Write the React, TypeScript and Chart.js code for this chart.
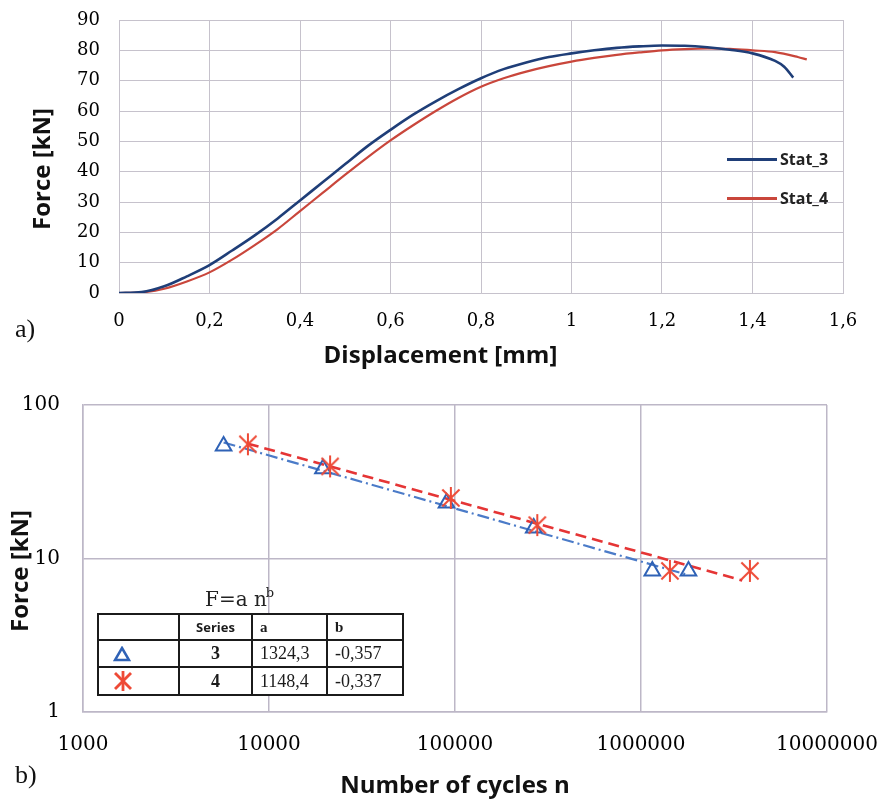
import React, { useEffect, useRef } from 'react';
import { Chart, registerables } from 'chart.js';

Chart.register(...registerables);

// ---------- a) Force vs displacement ----------
const stat3Displacement = [0, 0.05, 0.1, 0.15, 0.2, 0.25, 0.3, 0.35, 0.4, 0.45, 0.5, 0.55, 0.6, 0.65, 0.7, 0.75, 0.8, 0.85, 0.9, 0.95, 1.0, 1.05, 1.1, 1.15, 1.2, 1.25, 1.3, 1.35, 1.4, 1.45, 1.47, 1.49];
const stat3Force = [0, 0.3, 2.2, 5.5, 9.2, 14, 19, 24.5, 30.5, 36.5, 42.5, 48.5, 53.8, 58.8, 63.2, 67.2, 70.8, 73.8, 76, 77.8, 79, 80, 80.8, 81.3, 81.6, 81.5, 81, 80.2, 79, 76.5, 74.6, 71];
const stat4Displacement = [0, 0.05, 0.1, 0.15, 0.2, 0.25, 0.3, 0.35, 0.4, 0.45, 0.5, 0.55, 0.6, 0.65, 0.7, 0.75, 0.8, 0.85, 0.9, 0.95, 1.0, 1.05, 1.1, 1.15, 1.2, 1.25, 1.3, 1.35, 1.4, 1.45, 1.5, 1.52];
const stat4Force = [0, 0.2, 1.4, 3.8, 6.8, 11, 15.8, 21, 27, 33, 39, 44.8, 50.3, 55.3, 60, 64.3, 68, 70.8, 73, 74.8, 76.3, 77.5, 78.5, 79.3, 80, 80.4, 80.6, 80.5, 80, 79.4, 77.8, 77];
const topSeriesLabels = ['Stat_3', 'Stat_4'];
const topXTicks = [0, 0.2, 0.4, 0.6, 0.8, 1, 1.2, 1.4, 1.6];
const topXTickLabels = ['0', '0,2', '0,4', '0,6', '0,8', '1', '1,2', '1,4', '1,6'];
const topYTicks = [0, 10, 20, 30, 40, 50, 60, 70, 80, 90];
const topYTickLabels = ['0', '10', '20', '30', '40', '50', '60', '70', '80', '90'];

// ---------- b) Force vs number of cycles (log-log) ----------
const series3Cycles = [5700, 19500, 90000, 265000, 1150000, 1800000];
const series3Force = [54, 38.5, 23, 15.8, 8.3, 8.3];
const series4Cycles = [7700, 21300, 95000, 277000, 1430000, 3850000];
const series4Force = [55.5, 39.8, 24.8, 16.5, 8.3, 8.3];
const fit3Cycles = [5700, 1800000];
const fit3Force = [57, 7.8];
const fit4Cycles = [7700, 3500000];
const fit4Force = [56, 7.2];
const botXTicks = [1000, 10000, 100000, 1000000, 10000000];
const botXTickLabels = ['1000', '10000', '100000', '1000000', '10000000'];
const botYTicks = [1, 10, 100];
const botYTickLabels = ['1', '10', '100'];
const tableSeries = ['3', '4'];
const tableA = ['1324,3', '1148,4'];
const tableB = ['-0,357', '-0,337'];

const pts = (xs: number[], ys: number[]) => xs.map((x, i) => ({ x, y: ys[i] }));

const STAT3 = '#1f3e78';
const STAT4 = '#c9463b';
const TRI = '#2f62b6';
const FIT3 = '#4b7bc8';
const AST = '#ee4a36';
const FIT4 = '#e53535';
const GRID = '#c6c2cc';
const GRID_B = '#bdb7c7';
const TICK = '#000';
const TITLE_FONT = { family: '"Open Sans", sans-serif', weight: 'bold' as const, size: 24 };

const zeroPad = (s: any) => {
  s.paddingTop = 0;
  s.paddingBottom = 0;
  s.paddingLeft = 0;
  s.paddingRight = 0;
};

function makeAsterisk(color: string, size: number) {
  const c = document.createElement('canvas');
  c.width = size;
  c.height = size;
  const ctx = c.getContext('2d')!;
  ctx.strokeStyle = color;
  ctx.lineWidth = 2;
  const m = size / 2;
  const r = size / 2 - 1;
  const d = r * 0.78;
  ctx.beginPath();
  ctx.moveTo(m, m - r);
  ctx.lineTo(m, m + r);
  ctx.moveTo(m - d, m - d);
  ctx.lineTo(m + d, m + d);
  ctx.moveTo(m + d, m - d);
  ctx.lineTo(m - d, m + d);
  ctx.stroke();
  return c;
}

function TriangleIcon() {
  return (
    <svg width="18" height="16" viewBox="0 0 18 16">
      <polygon points="9,2 16,14 2,14" fill="none" stroke={TRI} strokeWidth="2.5" />
    </svg>
  );
}

function AsteriskIcon() {
  return (
    <svg width="20" height="22" viewBox="0 0 20 22">
      <g stroke={AST} strokeWidth="2.8">
        <line x1="10" y1="1" x2="10" y2="21" />
        <line x1="2" y1="3" x2="18" y2="19" />
        <line x1="18" y1="3" x2="2" y2="19" />
      </g>
    </svg>
  );
}

export default function App() {
  const topRef = useRef<HTMLCanvasElement>(null);
  const botRef = useRef<HTMLCanvasElement>(null);

  useEffect(() => {
    const charts: Chart[] = [];
    if (topRef.current) {
      charts.push(
        new Chart(topRef.current, {
          type: 'line',
          data: {
            datasets: [
              {
                label: topSeriesLabels[0],
                data: pts(stat3Displacement, stat3Force),
                borderColor: STAT3,
                borderWidth: 2.6,
                pointRadius: 0,
                cubicInterpolationMode: 'monotone',
                fill: false,
              },
              {
                label: topSeriesLabels[1],
                data: pts(stat4Displacement, stat4Force),
                borderColor: STAT4,
                borderWidth: 2.2,
                pointRadius: 0,
                cubicInterpolationMode: 'monotone',
                fill: false,
              },
            ],
          },
          options: {
            animation: false,
            responsive: false,
            layout: { padding: { top: 20, right: 42, left: 0, bottom: 0 } },
            plugins: { legend: { display: false }, tooltip: { enabled: false } },
            scales: {
              x: {
                type: 'linear',
                min: 0,
                max: 1.6,
                afterBuildTicks: (s: any) => {
                  s.ticks = topXTicks.map((v) => ({ value: v }));
                },
                afterFit: (s: any) => {
                  s.height = 82;
                  zeroPad(s);
                },
                ticks: {
                  callback: (_v: any, i: number) => topXTickLabels[i],
                  font: { family: '"DejaVu Serif", serif', size: 18 },
                  color: TICK,
                  padding: 18,
                  maxRotation: 0,
                  autoSkip: false,
                },
                grid: { color: GRID, lineWidth: 1, drawTicks: false },
                border: { color: GRID, width: 1 },
                title: {
                  display: true,
                  text: 'Displacement [mm]' + '             ',
                  font: TITLE_FONT,
                  color: '#111',
                  padding: { top: 0, bottom: 4 },
                },
              },
              y: {
                type: 'linear',
                min: 0,
                max: 90,
                afterBuildTicks: (s: any) => {
                  s.ticks = topYTicks.map((v) => ({ value: v }));
                },
                afterFit: (s: any) => {
                  s.width = 119;
                  zeroPad(s);
                },
                ticks: {
                  callback: (_v: any, i: number) => topYTickLabels[i],
                  font: { family: '"DejaVu Serif", serif', size: 18 },
                  color: TICK,
                  padding: 19,
                  autoSkip: false,
                },
                grid: { color: GRID, lineWidth: 1, drawTicks: false },
                border: { color: GRID, width: 1 },
                title: {
                  display: true,
                  text: 'Force [kN]' + '    ',
                  font: TITLE_FONT,
                  color: '#111',
                  padding: { top: 29, bottom: 0 },
                },
              },
            },
          },
        } as any)
      );
    }

    if (botRef.current) {
      const asterisk = makeAsterisk(AST, 24);
      charts.push(
        new Chart(botRef.current, {
          type: 'scatter',
          data: {
            datasets: [
              {
                label: 'Series 4',
                data: pts(series4Cycles, series4Force),
                pointStyle: asterisk,
                pointRadius: 12,
                borderColor: AST,
                backgroundColor: AST,
                showLine: false,
              },
              {
                label: 'Series 3',
                data: pts(series3Cycles, series3Force),
                pointStyle: 'triangle',
                pointRadius: 9,
                borderWidth: 2,
                borderColor: TRI,
                backgroundColor: 'rgba(255,255,255,0)',
                showLine: false,
              },
              {
                label: 'Fit 4',
                data: pts(fit4Cycles, fit4Force),
                showLine: true,
                borderColor: FIT4,
                borderWidth: 2.6,
                borderDash: [11, 6],
                pointRadius: 0,
              },
              {
                label: 'Fit 3',
                data: pts(fit3Cycles, fit3Force),
                showLine: true,
                borderColor: FIT3,
                borderWidth: 2.2,
                borderDash: [12, 4, 2, 4],
                pointRadius: 0,
              },
            ],
          },
          options: {
            animation: false,
            responsive: false,
            layout: { padding: { top: 30, right: 58, left: 0, bottom: 0 } },
            plugins: { legend: { display: false }, tooltip: { enabled: false } },
            scales: {
              x: {
                type: 'logarithmic',
                min: 1000,
                max: 10000000,
                afterBuildTicks: (s: any) => {
                  s.ticks = botXTicks.map((v) => ({ value: v }));
                },
                afterFit: (s: any) => {
                  s.height = 91;
                  zeroPad(s);
                },
                ticks: {
                  callback: (_v: any, i: number) => botXTickLabels[i],
                  font: { family: '"DejaVu Serif", serif', size: 20 },
                  color: TICK,
                  padding: 21,
                  maxRotation: 0,
                  autoSkip: false,
                },
                grid: { color: GRID_B, lineWidth: 1.5, drawTicks: false },
                border: { color: GRID_B, width: 1.5 },
                title: {
                  display: true,
                  text: 'Number of cycles n',
                  font: TITLE_FONT,
                  color: '#111',
                  padding: { top: 0, bottom: 2 },
                },
              },
              y: {
                type: 'logarithmic',
                min: 1,
                max: 100,
                afterBuildTicks: (s: any) => {
                  s.ticks = botYTicks.map((v) => ({ value: v }));
                },
                afterFit: (s: any) => {
                  s.width = 83;
                  zeroPad(s);
                },
                ticks: {
                  callback: (_v: any, i: number) => botYTickLabels[i],
                  font: { family: '"DejaVu Serif", serif', size: 20 },
                  color: TICK,
                  padding: 23,
                  autoSkip: false,
                },
                grid: { color: GRID_B, lineWidth: 1.5, drawTicks: false },
                border: { color: GRID_B, width: 1.5 },
                title: {
                  display: true,
                  text: 'Force [kN]' + '    ',
                  font: TITLE_FONT,
                  color: '#111',
                  padding: { top: 7, bottom: 0 },
                },
              },
            },
          },
        } as any)
      );
    }
    return () => charts.forEach((c) => c.destroy());
  }, []);

  const cell: React.CSSProperties = {
    border: '2px solid #1b1b1b',
    padding: 0,
    verticalAlign: 'middle',
    overflow: 'hidden',
    whiteSpace: 'nowrap',
  };
  const serif = '"Liberation Serif", "Times New Roman", serif';

  return (
    <div
      style={{
        position: 'absolute',
        left: 0,
        top: 0,
        width: 885,
        height: 803,
        background: '#fff',
        overflow: 'hidden',
      }}
    >
      <canvas
        ref={topRef}
        width={885}
        height={375}
        style={{ position: 'absolute', left: 0, top: 0, width: 885, height: 375 }}
      />
      <canvas
        ref={botRef}
        width={885}
        height={428}
        style={{ position: 'absolute', left: 0, top: 375, width: 885, height: 428 }}
      />

      {/* legend of chart a) */}
      {topSeriesLabels.map((lab, i) => (
        <div
          key={lab}
          style={{
            position: 'absolute',
            left: 727,
            top: 148 + i * 39,
            height: 22,
            display: 'flex',
            alignItems: 'center',
          }}
        >
          <div style={{ width: 50, height: 3, background: i === 0 ? STAT3 : STAT4 }} />
          <span
            style={{
              marginLeft: 3,
              font: 'bold 16px "Open Sans", sans-serif',
              color: '#222',
            }}
          >
            {lab}
          </span>
        </div>
      ))}

      {/* panel labels */}
      <div style={{ position: 'absolute', left: 15, top: 314, font: `26px ${serif}`, color: '#111' }}>a)</div>
      <div style={{ position: 'absolute', left: 15, top: 760, font: `26px ${serif}`, color: '#111' }}>b)</div>

      {/* fit formula and table of chart b) */}
      <div
        style={{
          position: 'absolute',
          left: 205,
          top: 586,
          font: '20px "DejaVu Serif", serif',
          color: '#222',
          lineHeight: '26px',
        }}
      >
        F=a n<sup style={{ fontSize: 13, verticalAlign: 'top', lineHeight: '14px', marginLeft: -1 }}>b</sup>
      </div>
      <table
        style={{
          position: 'absolute',
          left: 97,
          top: 613,
          width: 305,
          borderCollapse: 'collapse',
          tableLayout: 'fixed',
          background: '#fff',
          color: '#1b1b1b',
        }}
      >
        <colgroup>
          <col style={{ width: 81 }} />
          <col style={{ width: 73 }} />
          <col style={{ width: 75 }} />
          <col style={{ width: 76 }} />
        </colgroup>
        <tbody>
          <tr style={{ height: 26 }}>
            <td style={cell}></td>
            <td style={{ ...cell, textAlign: 'center', font: 'bold 13px "Open Sans", sans-serif' }}>Series</td>
            <td style={{ ...cell, paddingLeft: 7, font: `bold 15px ${serif}` }}>a</td>
            <td style={{ ...cell, paddingLeft: 7, font: `bold 15px ${serif}` }}>b</td>
          </tr>
          {tableSeries.map((s, i) => (
            <tr key={s} style={{ height: i === 0 ? 27 : 28 }}>
              <td style={{ ...cell, paddingLeft: 14 }}>
                <div style={{ display: 'flex', alignItems: 'center', height: 24 }}>
                  {i === 0 ? <TriangleIcon /> : <AsteriskIcon />}
                </div>
              </td>
              <td style={{ ...cell, textAlign: 'center', font: `bold 18px ${serif}` }}>{s}</td>
              <td style={{ ...cell, paddingLeft: 7, font: `18px ${serif}` }}>{tableA[i]}</td>
              <td style={{ ...cell, paddingLeft: 7, font: `18px ${serif}` }}>{tableB[i]}</td>
            </tr>
          ))}
        </tbody>
      </table>
    </div>
  );
}
